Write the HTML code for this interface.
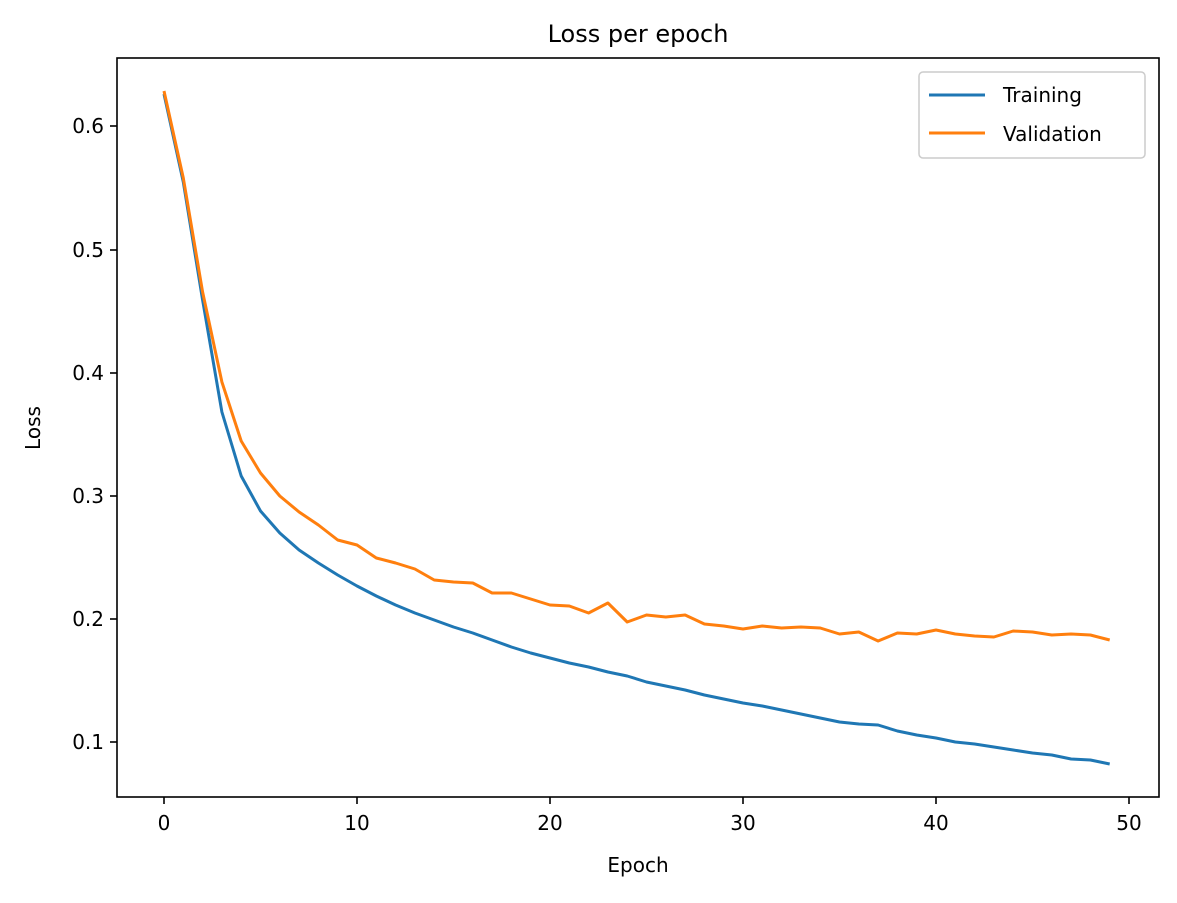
<!DOCTYPE html>
<html><head><style>body{margin:0;background:#fff}svg text{font-family:"DejaVu Sans","Liberation Sans",sans-serif;fill:#000}</style></head>
<body>
<svg width="1177" height="898" xmlns="http://www.w3.org/2000/svg">
<rect width="1177" height="898" fill="#fff"/>
<text x="638" y="42" font-size="24" text-anchor="middle">Loss per epoch</text>
<polyline fill="none" stroke="#1f77b4" stroke-width="3" stroke-linejoin="round" points="164,94 183.3,182 202.6,300 221.9,412 241.2,476 260.5,511 279.8,533 299.1,550 318.4,563 337.7,575 357,586 376.3,596 395.6,605 414.9,613 434.2,620 453.5,627 472.8,633 492.1,640 511.4,647 530.7,653 550,658 569.3,663 588.6,667 607.9,672 627.2,676 646.5,682 665.8,686 685.1,690 704.4,695 723.7,699 743,703 762.3,706 781.6,710 800.9,714 820.2,718 839.5,722 858.8,724 878.1,725 897.4,731 916.7,735 936,738 955.3,742 974.6,744 993.9,747 1013.2,750 1032.5,753 1051.8,755 1071.1,759 1090.4,760 1109.7,764"/>
<polyline fill="none" stroke="#ff7f0e" stroke-width="3" stroke-linejoin="round" points="164,91 183.3,178 202.6,292 221.9,382 241.2,441 260.5,473 279.8,496 299.1,512 318.4,525 337.7,540 357,545 376.3,558 395.6,563 414.9,569 434.2,580 453.5,582 472.8,583 492.1,593 511.4,593 530.7,599 550,605 569.3,606 588.6,613 607.9,603 627.2,622 646.5,615 665.8,617 685.1,615 704.4,624 723.7,626 743,629 762.3,626 781.6,628 800.9,627 820.2,628 839.5,634 858.8,632 878.1,641 897.4,633 916.7,634 936,630 955.3,634 974.6,636 993.9,637 1013.2,631 1032.5,632 1051.8,635 1071.1,634 1090.4,635 1109.7,640"/>
<rect x="117" y="58" width="1042" height="739" fill="none" stroke="#000" stroke-width="1.6"/>
<g stroke="#000" stroke-width="1.6">
<line x1="164" y1="797" x2="164" y2="804"/><line x1="357" y1="797" x2="357" y2="804"/><line x1="550" y1="797" x2="550" y2="804"/><line x1="743" y1="797" x2="743" y2="804"/><line x1="936" y1="797" x2="936" y2="804"/><line x1="1129" y1="797" x2="1129" y2="804"/>
<line x1="110" y1="126" x2="117" y2="126"/><line x1="110" y1="250" x2="117" y2="250"/><line x1="110" y1="373" x2="117" y2="373"/><line x1="110" y1="496" x2="117" y2="496"/><line x1="110" y1="619" x2="117" y2="619"/><line x1="110" y1="742" x2="117" y2="742"/>
</g>
<g font-size="20" text-anchor="middle">
<text x="164" y="830">0</text><text x="357" y="830">10</text><text x="550" y="830">20</text><text x="743" y="830">30</text><text x="936" y="830">40</text><text x="1129" y="830">50</text>
</g>
<g font-size="20" text-anchor="end">
<text x="104" y="133">0.6</text><text x="104" y="257">0.5</text><text x="104" y="380">0.4</text><text x="104" y="503">0.3</text><text x="104" y="626">0.2</text><text x="104" y="749">0.1</text>
</g>
<text x="638" y="872" font-size="20" text-anchor="middle">Epoch</text>
<text x="40" y="428" font-size="20" text-anchor="middle" transform="rotate(-90 40 428)">Loss</text>
<rect x="919" y="72" width="226" height="86" rx="4" fill="#fff" stroke="#ccc" stroke-width="1.5"/>
<line x1="929" y1="95" x2="985" y2="95" stroke="#1f77b4" stroke-width="3"/>
<line x1="929" y1="133" x2="985" y2="133" stroke="#ff7f0e" stroke-width="3"/>
<text x="1003" y="102" font-size="20">Training</text>
<text x="1003" y="141" font-size="20">Validation</text>
</svg>
</body></html>
